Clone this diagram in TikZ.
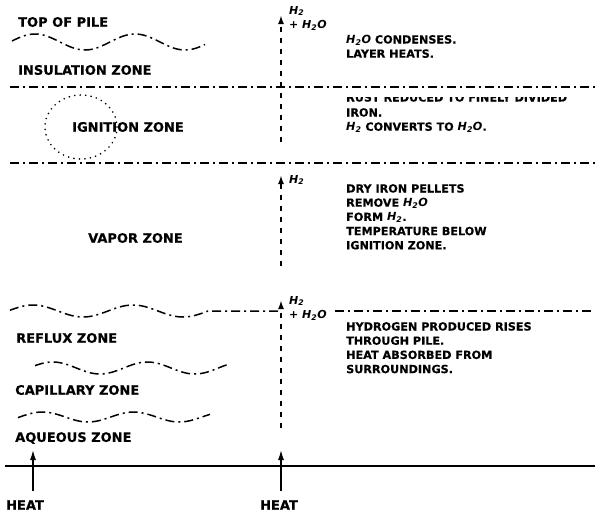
\documentclass[tikz,border=0pt]{standalone}
\usepackage{fontspec}
\setmainfont{DejaVu Sans}[BoldFeatures={FakeBold=0.4}]
\usetikzlibrary{arrows.meta}
\newcommand\Hsub{\textit{H\textsubscript{2}}}
\newcommand\HsubO{\textit{H\textsubscript{2}O}}
\begin{document}
\begin{tikzpicture}[x=1pt,y=-1pt,
 zone/.style={anchor=west,font=\fontsize{13}{15}\selectfont\bfseries,inner sep=0pt},
 note/.style={anchor=north west,font=\fontsize{11.2}{14.2}\selectfont\bfseries,inner sep=0pt,align=left},
 chem/.style={anchor=west,font=\fontsize{11}{12}\selectfont\bfseries\itshape,inner sep=0pt},
 dashdot/.style={line width=1.5pt,dash pattern=on 9pt off 4pt on 2pt off 4pt},
 flow/.style={line width=2.2pt,dash pattern=on 5pt off 6pt,-{Latex[length=9pt,width=6pt]}},
 heat/.style={line width=1.3pt,-{Latex[length=10pt,width=6pt]}}]
\useasboundingbox (0,0) rectangle (595,515);

% zone boundaries
\draw[dashdot] plot[domain=12:205,samples=80,smooth] (\x,{42-8*cos((\x-35)*3.6)});
\draw[dashdot] (10,87) -- (595,87);
\draw[dashdot] (10,163) -- (595,163);
\draw[dashdot] plot[domain=10:208,samples=80,smooth] (\x,{311-6*cos((\x-33)*3.6)}) -- (280,311);
\draw[dashdot] (335,311) -- (595,311);
\draw[dashdot] plot[domain=35:227,samples=80,smooth] (\x,{368+6*cos((\x-100)*3.8)});
\draw[dashdot] plot[domain=18:210,samples=80,smooth] (\x,{417+5*cos((\x-88)*3.95)});
\draw[line width=1.3pt] (5,466) -- (595,466);

% ignition circle
\draw[line width=1.8pt,line cap=round,dash pattern=on 0pt off 5.5pt] (81,127) ellipse [x radius=36, y radius=32];

% zone labels
\node[zone] (top) at (18,22) {TOP OF PILE};
\node[zone] (ins) at (18,70) {INSULATION ZONE};
\node[zone] (ign) at (72,127) {IGNITION ZONE};
\node[zone] (vap) at (88,238) {VAPOR ZONE};
\node[zone] (ref) at (16,338) {REFLUX ZONE};
\node[zone] (cap) at (15,390) {CAPILLARY ZONE};
\node[zone] (aq) at (15,438) {AQUEOUS ZONE};
\node[zone,anchor=center] (heatL) at (25,505) {HEAT};
\node[zone,anchor=center] (heatR) at (279,505) {HEAT};

% flow arrows
\coordinate (a1s) at (281,142); \coordinate (a1e) at (281,15);
\coordinate (a2s) at (281,266); \coordinate (a2e) at (281,175);
\coordinate (a3s) at (281,428); \coordinate (a3e) at (281,300);
\draw[flow] (a1s) -- (a1e);
\draw[flow] (a2s) -- (a2e);
\draw[flow] (a3s) -- (a3e);
\node[chem] (l1a) at (289,11) {H\textsubscript{2}};
\node[chem] (l1b) at (289,25) {+ H\textsubscript{2}O};
\node[chem] (l2a) at (289,180) {H\textsubscript{2}};
\node[chem] (l3a) at (289,301) {H\textsubscript{2}};
\node[chem] (l3b) at (289,315) {+ H\textsubscript{2}O};

% heat arrows
\coordinate (h1s) at (33,491); \coordinate (h1e) at (33,450);
\coordinate (h2s) at (281,491); \coordinate (h2e) at (281,450);
\draw[heat] (h1s) -- (h1e);
\draw[heat] (h2s) -- (h2e);

% notes
\node[note] (n1) at (346,35) {\HsubO\ CONDENSES.\\LAYER HEATS.};
\begin{scope}
\clip (340,97) rectangle (595,104);
\node[note] (n2a) at (346,93) {RUST REDUCED TO FINELY DIVIDED};
\end{scope}
\node[note] (n2) at (346,108) {IRON.\\\Hsub\ CONVERTS TO \HsubO.};
\node[note] (n3) at (346,184) {DRY IRON PELLETS\\REMOVE \HsubO\\FORM \Hsub.\\TEMPERATURE BELOW\\IGNITION ZONE.};
\node[note] (n4) at (346,322) {HYDROGEN PRODUCED RISES\\THROUGH PILE.\\HEAT ABSORBED FROM\\SURROUNDINGS.};
\end{tikzpicture}
\end{document}
